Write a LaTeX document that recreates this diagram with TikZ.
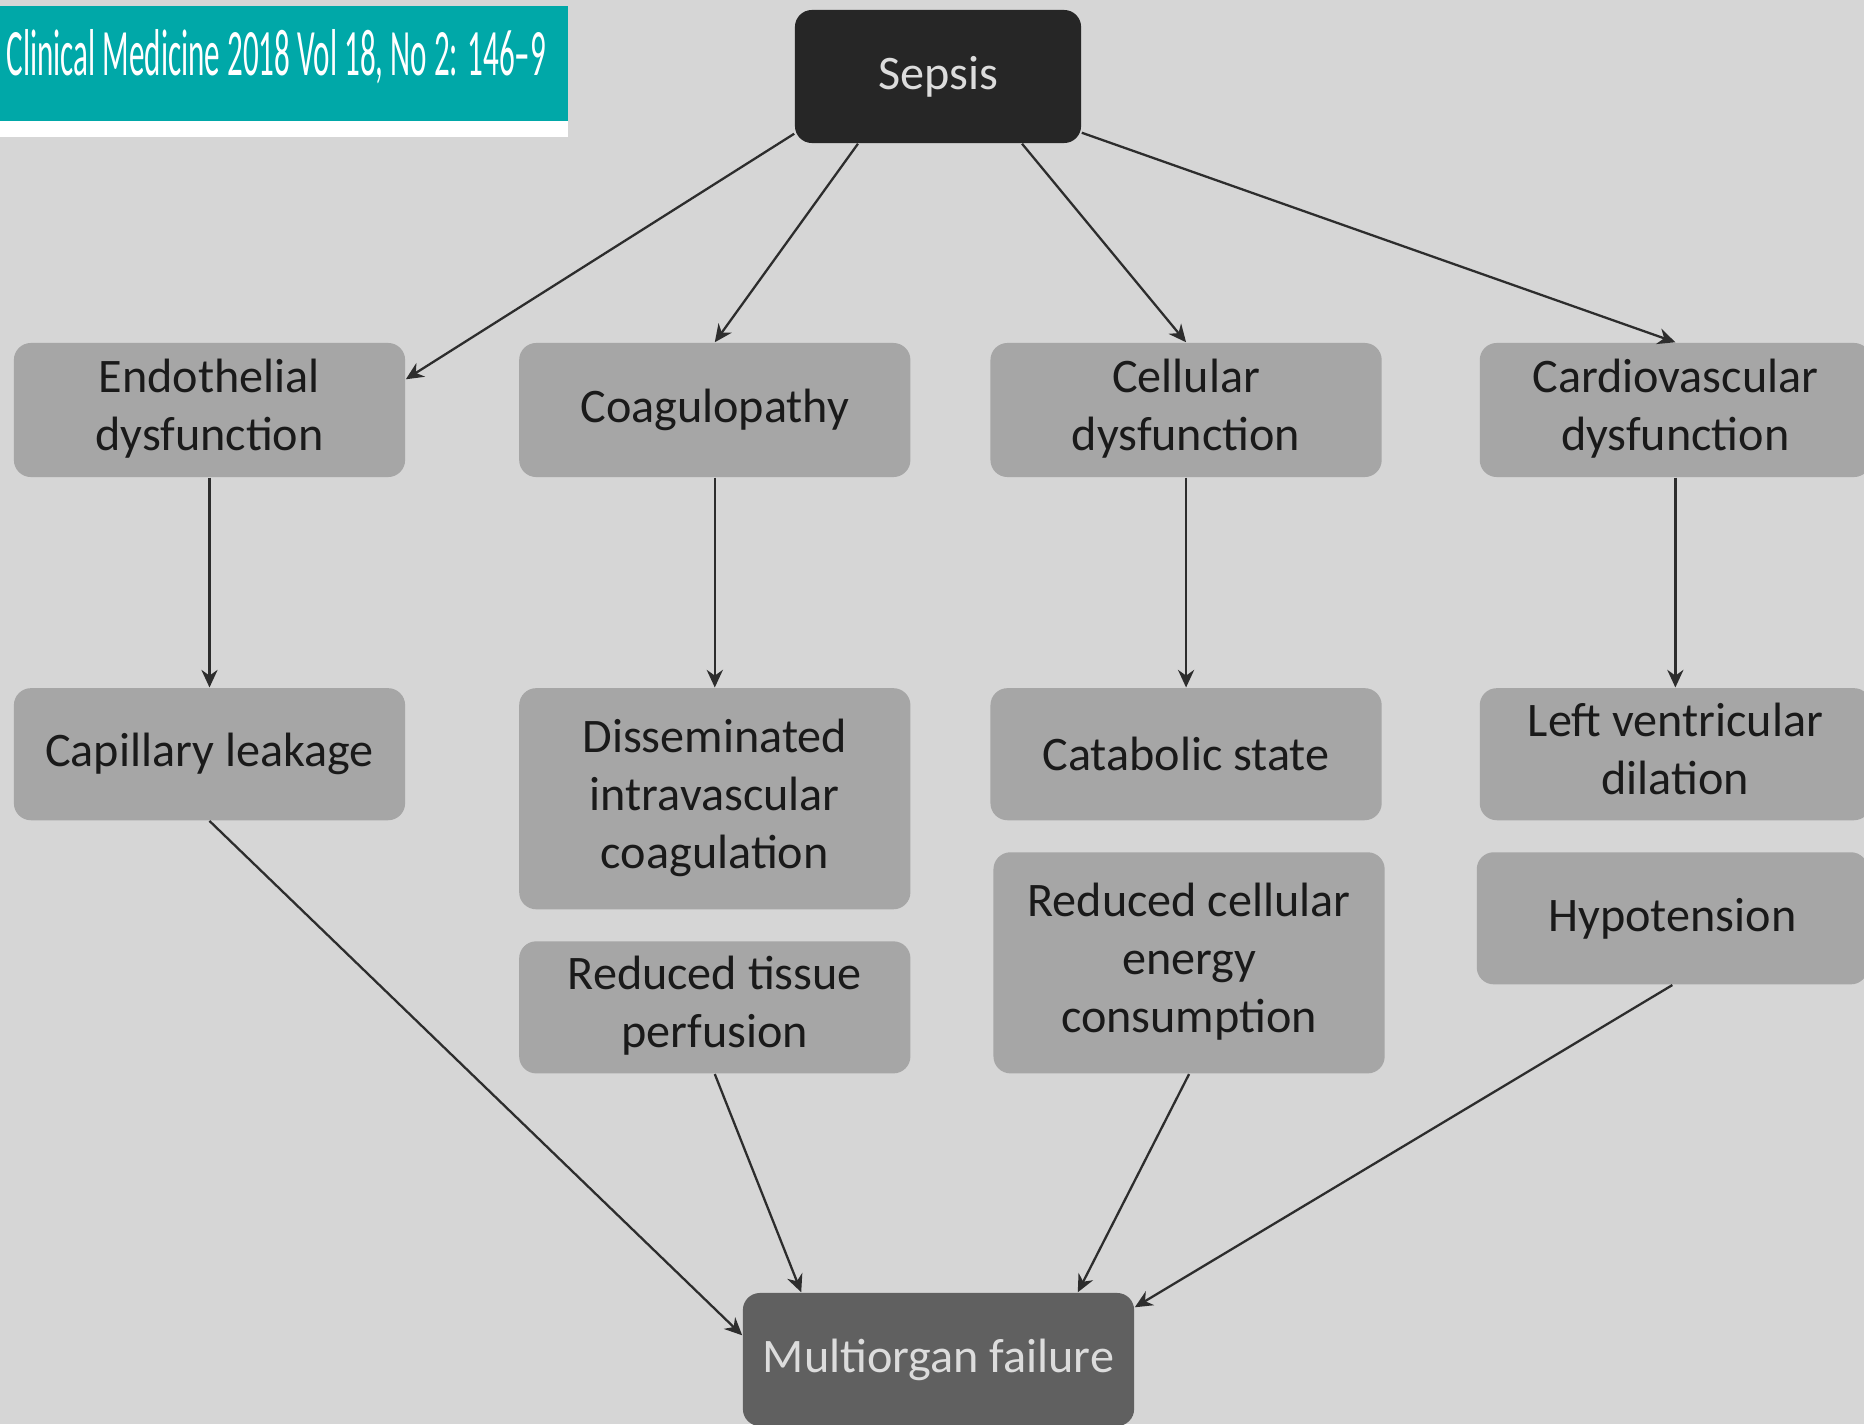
\documentclass[tikz,border=0pt]{standalone}
\usepackage{fontspec}
\setmainfont{Carlito}
\usepackage{tikz}
\usetikzlibrary{arrows,arrows.meta,shapes,positioning}
\usepackage{xcolor}
\definecolor{sxbg}{RGB}{214,214,214}
\definecolor{sxbox}{RGB}{166,166,166}
\definecolor{sxdark}{RGB}{38,38,38}
\definecolor{sxmid}{RGB}{96,96,96}
\definecolor{sxtext}{RGB}{26,26,26}
\definecolor{sxlight}{RGB}{220,220,220}
\definecolor{sxteal}{RGB}{0,168,168}
\definecolor{sxline}{RGB}{45,45,45}
\tikzstyle{arrow} = [line width=0.65pt,->,>={Stealth[length=5pt,width=4.6pt]},color=sxline]
\tikzstyle{effect} = [rectangle, rounded corners=0.17cm, minimum width=3.91cm, minimum height=1.33cm, text centered, fill=sxbox, text=sxtext, font=\fontsize{13.7}{16.5}\selectfont, inner sep=0pt]

\begin{document}
\begin{tikzpicture}[x=0.01cm, y=-0.01cm, node distance=2cm]
\useasboundingbox (0,0) rectangle (1864,1424);
\clip (0,0) rectangle (1864,1424);
% Background and journal banner
\fill[sxbg] (0,0) rectangle (1864,1424);
\fill[sxteal] (0,6) rectangle (568,121);
\fill[white] (0,121) rectangle (568,137);
\node (journal) [anchor=west, text=white, inner sep=0pt] at (6,57) {\resizebox{5.39cm}{0.46cm}{Clinical Medicine 2018 Vol 18, No 2: 146--9}};

% Sepsis
\node (sepsis) [effect, minimum width=2.86cm, fill=sxdark, text=sxlight] at (938,76.5) {Sepsis};

% First row
\node (endo) [effect, minimum height=1.34cm] at (209.5,410) {
\begin{tabular}{c}
Endothelial\\
dysfunction
\end{tabular}
};
\node (coag) [effect, minimum height=1.34cm, right of=endo, node distance=5.05cm] {Coagulopathy};
\node (cell) [effect, minimum height=1.34cm, right of=coag, node distance=4.71cm] {
\begin{tabular}{c}
Cellular\\
dysfunction
\end{tabular}
};
\node (cardio) [effect, minimum height=1.34cm, right of=cell, node distance=4.89cm] {
\begin{tabular}{c}
Cardiovascular\\
dysfunction
\end{tabular}
};

% Second row
\node (cap) [effect, minimum height=1.32cm, below of=endo, node distance=3.44cm] {Capillary leakage};
\node (dic) [effect, minimum height=2.21cm, below of=coag, node distance=3.885cm] {
\begin{tabular}{c}
Disseminated\\
intravascular\\
coagulation
\end{tabular}
};
\node (catab) [effect, minimum height=1.32cm, below of=cell, node distance=3.44cm] {Catabolic state};
\node (lvd) [effect, minimum height=1.32cm, below of=cardio, node distance=3.44cm] {
\begin{tabular}{c}
Left ventricular\\
dilation
\end{tabular}
};

% Third row
\node (rtp) [effect, minimum height=1.32cm, below of=dic, node distance=2.085cm] {
\begin{tabular}{c}
Reduced tissue\\
perfusion
\end{tabular}
};
\node (rcec) [effect, minimum height=2.21cm, below of=catab, node distance=2.085cm, xshift=0.03cm] {
\begin{tabular}{c}
Reduced cellular\\
energy\\
consumption
\end{tabular}
};
\node (hypo) [effect, minimum height=1.32cm, below of=lvd, node distance=1.64cm, xshift=-0.03cm] {Hypotension};

% Multiorgan failure
\node (mof) [effect, fill=sxmid, text=sxlight] at (938.5,1359.5) {Multiorgan failure};

% Sepsis to first row
\draw[arrow] ([yshift=0.1cm]sepsis.south west) -- ([yshift=-0.37cm]endo.north east);
\draw[arrow] ([xshift=-0.8cm]sepsis.south) -- (coag.north);
\draw[arrow] ([xshift=0.84cm]sepsis.south) -- (cell.north);
\draw[arrow] ([yshift=0.11cm]sepsis.south east) -- (cardio.north);

% First row to second row
\draw[arrow] (endo.south) -- (cap.north);
\draw[arrow] (coag.south) -- (dic.north);
\draw[arrow] (cell.south) -- (catab.north);
\draw[arrow] (cardio.south) -- (lvd.north);

% Into multiorgan failure
\draw[arrow] (cap.south) -- ([yshift=-0.43cm]mof.north west);
\draw[arrow] (rtp.south) -- ([xshift=0.59cm]mof.north west);
\draw[arrow] (rcec.south) -- ([xshift=-0.57cm]mof.north east);
\draw[arrow] (hypo.south) -- ([yshift=-0.15cm]mof.north east);
\end{tikzpicture}
\end{document}
